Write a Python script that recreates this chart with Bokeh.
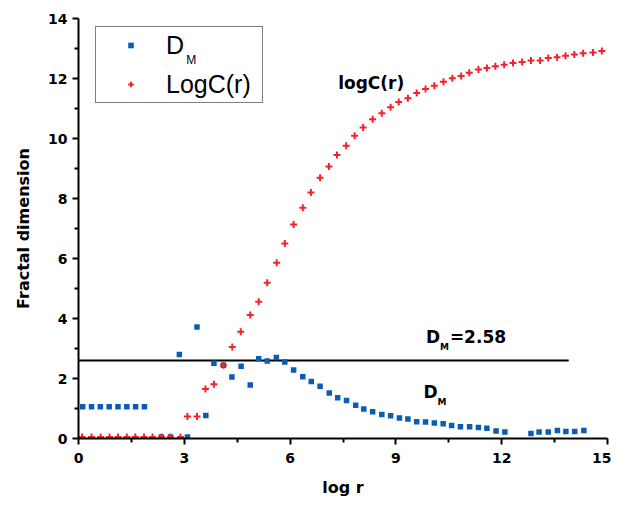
from bokeh.plotting import figure
from bokeh.models import Range1d, FixedTicker, Legend, LegendItem, Label
from bokeh.embed import file_html
from bokeh.resources import INLINE

# ---------------- data ----------------
logc_x = [0.10, 0.37, 0.63, 0.88, 1.12, 1.37, 1.61, 1.86, 2.10, 2.35, 2.61, 2.89,
          3.09, 3.36, 3.60, 3.84, 4.11, 4.36, 4.60, 4.87, 5.11, 5.35, 5.62, 5.85,
          6.10, 6.36, 6.59, 6.85, 7.10, 7.33, 7.59, 7.83, 8.07, 8.34, 8.60, 8.85,
          9.08, 9.34, 9.59, 9.84, 10.09, 10.35, 10.60, 10.85, 11.08, 11.34, 11.58,
          11.82, 12.07, 12.32, 12.58, 12.83, 13.09, 13.32, 13.57, 13.81, 14.06,
          14.31, 14.59, 14.84]
logc_y = [0.05, 0.05, 0.05, 0.05, 0.05, 0.05, 0.05, 0.05, 0.05, 0.05, 0.05, 0.05,
          0.73, 0.73, 1.65, 1.81, 2.44, 3.05, 3.56, 4.12, 4.56, 5.19, 5.86, 6.50,
          7.13, 7.69, 8.20, 8.69, 9.07, 9.45, 9.76, 10.09, 10.37, 10.64, 10.84, 11.04,
          11.22, 11.34, 11.52, 11.65, 11.76, 11.89, 12.01, 12.08, 12.19, 12.30, 12.35,
          12.41, 12.46, 12.52, 12.55, 12.60, 12.60, 12.68, 12.71, 12.76, 12.80,
          12.84, 12.87, 12.92]

dm_x = [0.12, 0.37, 0.62, 0.87, 1.12, 1.37, 1.62, 1.87,
        2.35, 2.61, 2.86, 3.09, 3.36, 3.61, 3.84, 4.11, 4.35, 4.61, 4.87, 5.11,
        5.35, 5.61, 5.85, 6.10, 6.36, 6.60, 6.85, 7.11, 7.35, 7.60, 7.86, 8.09,
        8.34, 8.60, 8.85, 9.10, 9.34, 9.59, 9.84, 10.09, 10.34, 10.58, 10.83,
        11.09, 11.34, 11.58, 11.84, 12.09, 12.83, 13.06, 13.32, 13.58, 13.82,
        14.07, 14.33]
dm_y = [1.06, 1.06, 1.06, 1.06, 1.06, 1.06, 1.06, 1.06,
        0.05, 0.05, 2.80, 0.05, 3.72, 0.77, 2.51, 2.44, 2.05, 2.41, 1.78, 2.66,
        2.58, 2.70, 2.55, 2.28, 2.06, 1.90, 1.74, 1.52, 1.36, 1.27, 1.11, 0.98,
        0.89, 0.80, 0.76, 0.68, 0.65, 0.56, 0.55, 0.52, 0.49, 0.43, 0.39,
        0.39, 0.37, 0.34, 0.25, 0.22, 0.17, 0.22, 0.22, 0.27, 0.23,
        0.23, 0.27]

dm_level = 2.6              # D_M = 2.58 reference line
dm_line_x = [0.0, 13.9]

x_ticks = [0, 3, 6, 9, 12, 15]
x_minor = [1.5, 4.5, 7.5, 10.5, 13.5]
y_ticks = [0, 2, 4, 6, 8, 10, 12, 14]
y_minor = [1, 3, 5, 7, 9, 11, 13]

BLUE = "#0b5cb5"
RED = "#f5222c"
BOLD_FONT = "DejaVu Sans"

# ---------------- figure ----------------
p = figure(width=611, height=500, output_backend="svg", toolbar_location=None,
           x_range=Range1d(0, 15), y_range=Range1d(0, 14),
           min_border_left=78, min_border_right=4, min_border_top=18,
           min_border_bottom=62)
p.xgrid.visible = False
p.ygrid.visible = False
p.outline_line_color = None
p.background_fill_color = "white"
p.border_fill_color = "white"

p.xaxis.ticker = FixedTicker(ticks=x_ticks, minor_ticks=x_minor)
p.yaxis.ticker = FixedTicker(ticks=y_ticks, minor_ticks=y_minor)
p.xaxis.axis_label = "log r"
p.yaxis.axis_label = "Fractal dimension"

for ax in (p.xaxis[0], p.yaxis[0]):
    ax.axis_line_width = 2
    ax.axis_line_color = "black"
    ax.major_tick_line_width = 2
    ax.minor_tick_line_width = 2
    ax.major_tick_line_color = "black"
    ax.minor_tick_line_color = "black"
    ax.major_tick_out = 6
    ax.major_tick_in = 0
    ax.minor_tick_out = 4
    ax.minor_tick_in = 0
    ax.major_label_text_font = BOLD_FONT
    ax.major_label_text_font_style = "bold"
    ax.major_label_text_font_size = "14px"
    ax.major_label_text_color = "black"
    ax.axis_label_text_font = BOLD_FONT
    ax.axis_label_text_font_style = "bold"
    ax.axis_label_text_font_size = "16px"
    ax.axis_label_text_color = "black"

p.xaxis.major_label_standoff = 8
p.xaxis.axis_label_standoff = 12
p.yaxis.major_label_standoff = 5
p.yaxis.axis_label_standoff = 12

# ---------------- glyphs ----------------
p.line(dm_line_x, [dm_level, dm_level], line_color="black", line_width=2)
r_dm = p.scatter(dm_x, dm_y, marker="square", size=5.5,
                 fill_color=BLUE, line_color=None)
r_lc = p.scatter(logc_x, logc_y, marker="cross", size=7,
                 line_color=RED, line_width=2)

# ---------------- legend ----------------
legend = Legend(items=[LegendItem(label="D", renderers=[r_dm]),
                       LegendItem(label="LogC(r)", renderers=[r_lc])],
                location=(17, 335), orientation="vertical",
                padding=3, spacing=9, margin=0,
                glyph_width=63, glyph_height=14, label_standoff=4,
                label_width=93, label_height=30,
                label_text_font="Liberation Sans", label_text_font_size="25px",
                label_text_color="black",
                border_line_color="black", border_line_width=1.5,
                background_fill_alpha=0.0)
p.add_layout(legend)

# subscript of the legend entry "D"
p.add_layout(Label(x=3.2, y=12.62, text="M", level="overlay",
                   text_font="Liberation Sans", text_font_size="12px",
                   text_color="black", text_align="center", text_baseline="middle"))

# ---------------- annotations ----------------
def txt(x, y, s, size="17px", dx=0, dy=0, align="left"):
    p.add_layout(Label(x=x, y=y, text=s, x_offset=dx, y_offset=dy,
                       text_font=BOLD_FONT, text_font_style="bold",
                       text_font_size=size, text_color="black",
                       text_align=align, text_baseline="middle"))

txt(8.3, 11.85, "logC(r)", align="center")
txt(9.85, 3.4, "D")
txt(9.85, 3.4, "M", size="9px", dx=14, dy=-10)
txt(9.85, 3.4, "=2.58", dx=24)
txt(9.78, 1.55, "D")
txt(9.78, 1.55, "M", size="9px", dx=14, dy=-10)

open("out.html", "w").write(file_html(p, INLINE))
